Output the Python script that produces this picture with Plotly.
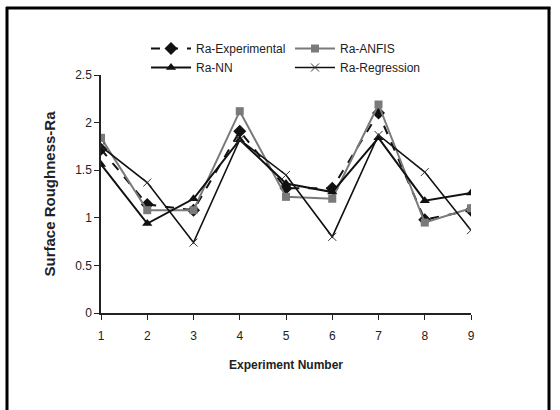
import plotly.graph_objects as go

experiments = [1, 2, 3, 4, 5, 6, 7, 8, 9]
ra_experimental = [1.72, 1.14, 1.08, 1.91, 1.31, 1.31, 2.10, 0.98, 1.08]
ra_anfis = [1.84, 1.08, 1.08, 2.12, 1.22, 1.20, 2.19, 0.95, 1.10]
ra_nn = [1.56, 0.94, 1.20, 1.82, 1.36, 1.27, 1.84, 1.18, 1.26]
ra_regression = [1.75, 1.37, 0.74, 1.82, 1.45, 0.80, 1.87, 1.48, 0.87]

W, H = 560, 410
ML, MR, MT, MB = 101, 89, 75, 97
PW, PH = W - ML - MR, H - MT - MB

font_main = "Liberation Sans, Arial"

def px_x(p):
    return (p - ML) / PW

def px_y(p):
    return (H - MB - p) / PH

fig = go.Figure()
fig.add_trace(go.Scatter(x=experiments, y=ra_experimental, name="Ra-Experimental",
                         mode="lines+markers", legend="legend",
                         line=dict(color="#111111", width=2, dash="dash"),
                         marker=dict(symbol="diamond", size=10, color="#111111")))
fig.add_trace(go.Scatter(x=experiments, y=ra_anfis, name="Ra-ANFIS",
                         mode="lines+markers", legend="legend2",
                         line=dict(color="#7a7a7a", width=2),
                         marker=dict(symbol="square", size=8, color="#7a7a7a")))
fig.add_trace(go.Scatter(x=experiments, y=ra_nn, name="Ra-NN",
                         mode="lines+markers", legend="legend",
                         line=dict(color="#111111", width=2),
                         marker=dict(symbol="triangle-up", size=9, color="#111111")))
fig.add_trace(go.Scatter(x=experiments, y=ra_regression, name="Ra-Regression",
                         mode="lines+markers", legend="legend2",
                         line=dict(color="#111111", width=1.6),
                         marker=dict(symbol="x-thin", size=8,
                                     line=dict(color="#333333", width=1))))

shapes = [
    dict(type="line", xref="paper", yref="paper", x0=px_x(6), x1=px_x(550.5),
         y0=px_y(8), y1=px_y(8), line=dict(color="black", width=3)),
    dict(type="line", xref="paper", yref="paper", x0=px_x(7), x1=px_x(7),
         y0=px_y(7), y1=px_y(420), line=dict(color="black", width=3)),
    dict(type="line", xref="paper", yref="paper", x0=px_x(549), x1=px_x(549),
         y0=px_y(7), y1=px_y(420), line=dict(color="black", width=3)),
]

leg_common = dict(orientation="v", xanchor="left", yanchor="top",
                  font=dict(family=font_main, size=12, color="#222222"),
                  bgcolor="rgba(0,0,0,0)", tracegroupgap=0, itemwidth=40)

fig.update_layout(
    width=W, height=H,
    margin=dict(l=ML, r=MR, t=MT, b=MB),
    paper_bgcolor="white", plot_bgcolor="white",
    font=dict(family=font_main, size=12, color="#222222"),
    shapes=shapes,
    showlegend=True,
    legend=dict(x=px_x(146), y=px_y(34), **leg_common),
    legend2=dict(x=px_x(290), y=px_y(34), **leg_common),
    xaxis=dict(range=[1, 9], tickmode="array", tickvals=experiments,
               showgrid=False, zeroline=False, showline=True, linecolor="#222222",
               linewidth=1.5, ticks="outside", ticklen=5, tickcolor="#222222",
               tickfont=dict(size=12), ticklabelstandoff=6,
               title=dict(text="<b>Experiment Number</b>",
                          font=dict(family=font_main, size=12), standoff=18)),
    yaxis=dict(range=[0, 2.5], tickmode="array", tickvals=[0, 0.5, 1, 1.5, 2, 2.5],
               ticktext=["0", "0.5", "1", "1.5", "2", "2.5"],
               showgrid=False, zeroline=False, showline=True, linecolor="#222222",
               linewidth=1.5, ticks="outside", ticklen=5, tickcolor="#222222",
               tickfont=dict(size=12),
               title=dict(text="<b>Surface Roughness-Ra</b>",
                          font=dict(family=font_main, size=15), standoff=16)),
)

fig.write_html("out.html", config={"displayModeBar": False},
               post_script="document.body.style.margin='0';document.body.style.overflow='hidden';")
